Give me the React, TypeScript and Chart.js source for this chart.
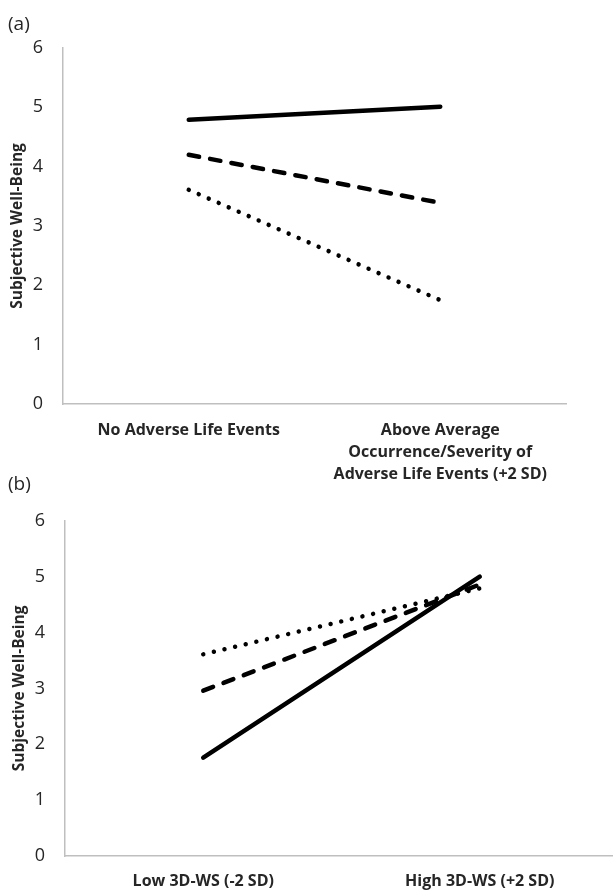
import { useEffect, useRef } from "react";
import { Chart, registerables } from "chart.js";

Chart.register(...registerables);

// ---------- data ----------
const categoriesA: (string | string[])[] = [
  "No Adverse Life Events",
  ["Above Average", "Occurrence/Severity of", "Adverse Life Events (+2 SD)"],
];
const highWS = [4.79, 5.01];
const meanWS = [4.2, 3.39];
const lowWS = [3.61, 1.75];

const categoriesB: string[] = ["Low 3D-WS (-2 SD)", "High 3D-WS (+2 SD)"];
const aboveAvgAdverse = [1.76, 5.0];
const meanAdverse = [2.96, 4.86];
const noAdverse = [3.61, 4.79];

const yTicks = [0, 1, 2, 3, 4, 5, 6];
const yTitle = "Subjective Well-Being";

// ---------- styling ----------
const FONT = "'Open Sans', Lato, sans-serif";
const TEXT = "#262626";
const AXIS = "#bfbfbf";

const solid = { borderDash: [] as number[] };
const dashed = { borderDash: [10.5, 11.2] };
const dotted = { borderDash: [0.01, 10.9] };

function ds(data: number[], style: { borderDash: number[] }) {
  return {
    data,
    borderColor: "#000",
    backgroundColor: "#000",
    borderWidth: 4.5,
    borderCapStyle: "round" as const,
    borderJoinStyle: "round" as const,
    borderDash: style.borderDash,
    pointRadius: 0,
    pointHoverRadius: 0,
    fill: false,
    tension: 0,
  };
}

function makeOptions(p: {
  padRight: number;
  padTop: number;
  yWidth: number;
  xHeight: number;
  titlePad: number;
  xPad: number;
}) {
  return {
    animation: false as const,
    responsive: false,
    maintainAspectRatio: false,
    layout: { padding: { left: 0, right: p.padRight, top: p.padTop, bottom: 0 } },
    plugins: { legend: { display: false }, tooltip: { enabled: false } },
    scales: {
      x: {
        type: "category" as const,
        offset: true,
        grid: { display: false, drawTicks: false },
        border: { display: true, color: AXIS, width: 1.5 },
        ticks: {
          color: TEXT,
          padding: p.xPad,
          maxRotation: 0,
          minRotation: 0,
          autoSkip: false,
          font: { family: FONT, size: 16, weight: "bold" as const, lineHeight: 1.375 },
        },
        afterFit: (s: any) => {
          s.height = p.xHeight;
        },
      },
      y: {
        min: yTicks[0],
        max: yTicks[yTicks.length - 1],
        grid: { display: false, drawTicks: false },
        border: { display: true, color: AXIS, width: 1.5 },
        ticks: {
          stepSize: 1,
          color: TEXT,
          padding: 20,
          font: { family: FONT, size: 18 },
        },
        title: {
          display: true,
          text: yTitle,
          color: TEXT,
          padding: { top: p.titlePad, bottom: 0 },
          font: { family: FONT, size: 15.5, weight: "bold" as const, lineHeight: 1.2 },
        },
        afterFit: (s: any) => {
          s.width = p.yWidth;
        },
      },
    },
  };
}

export default function App() {
  const refA = useRef<HTMLCanvasElement | null>(null);
  const refB = useRef<HTMLCanvasElement | null>(null);

  useEffect(() => {
    const charts: Chart[] = [];
    if (refA.current) {
      charts.push(
        new Chart(refA.current, {
          type: "line",
          data: {
            labels: categoriesA as any,
            datasets: [ds(highWS, solid), ds(meanWS, dashed), ds(lowWS, dotted)],
          },
          options: makeOptions({
            padRight: 47,
            padTop: 48,
            yWidth: 63,
            xHeight: 86,
            titlePad: 8,
            xPad: 15,
          }) as any,
        })
      );
    }
    if (refB.current) {
      charts.push(
        new Chart(refB.current, {
          type: "line",
          data: {
            labels: categoriesB,
            datasets: [ds(noAdverse, dotted), ds(meanAdverse, dashed), ds(aboveAvgAdverse, solid)],
          },
          options: makeOptions({
            padRight: 22,
            padTop: 17,
            yWidth: 65,
            xHeight: 36,
            titlePad: 10,
            xPad: 14,
          }) as any,
        })
      );
    }
    return () => charts.forEach((c) => c.destroy());
  }, []);

  const tag: React.CSSProperties = {
    position: "absolute",
    left: 8,
    fontFamily: FONT,
    fontSize: 19,
    lineHeight: "22px",
    color: TEXT,
  };

  return (
    <div
      style={{
        position: "absolute",
        left: 0,
        top: 0,
        width: 613,
        height: 892,
        overflow: "hidden",
        background: "#fff",
      }}
    >
      <canvas
        ref={refA}
        width={613}
        height={490}
        style={{ position: "absolute", left: 0, top: 0, width: 613, height: 490 }}
      />
      <canvas
        ref={refB}
        width={640}
        height={402}
        style={{ position: "absolute", left: 0, top: 490, width: 640, height: 402 }}
      />
      <div style={{ ...tag, top: 12 }}>(a)</div>
      <div style={{ ...tag, top: 472 }}>(b)</div>
    </div>
  );
}
